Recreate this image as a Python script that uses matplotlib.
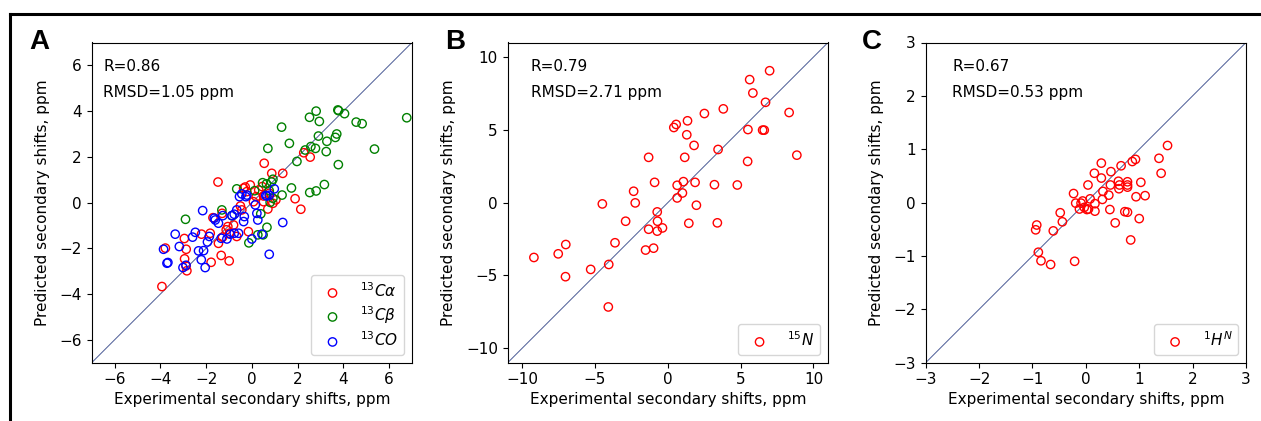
import numpy as np
import matplotlib
matplotlib.use("Agg")
import matplotlib.pyplot as plt
from matplotlib.lines import Line2D

# ---- panel A: 13C shifts (experimental, predicted) ----
ca_exp = [-3.93, -3.78, -2.95, -2.87, -2.94, -2.88, -2.84, -1.78, -1.34, -0.99,
          -2.20, -1.82, -1.46, -1.48, -1.70, -1.30, -1.28, -1.12, -0.98, -0.80,
          -0.66, -0.44, -0.36, -0.29, -0.07, -0.22, -0.15, 0.07, 0.19, 0.54,
          0.51, 0.51, 0.70, 0.77, 0.87, 0.92, 1.05, 1.35, 1.89, 2.14,
          2.27, 2.55, -0.50, -1.05, 0.30, 0.45]
ca_pred = [-3.67, -1.99, -1.57, -2.04, -2.46, -2.77, -2.98, -2.61, -2.31, -2.55,
           -1.38, -1.34, -1.78, 0.90, -0.66, -0.47, -1.51, -1.19, -1.34, -0.98,
           -1.48, -0.32, 0.63, 0.68, 0.77, 0.48, -1.27, 0.04, 0.26, 1.72,
           0.29, 0.04, -0.28, 0.41, 1.28, -0.03, 0.12, 1.28, 0.17, -0.29,
           2.18, 1.99, -0.15, -1.05, 0.55, 0.70]

cb_exp = [6.77, 2.81, 2.52, 2.95, 3.76, 3.79, 4.05, 4.56, 4.82, 1.30,
          2.91, 3.71, 3.65, 3.28, 1.64, 0.70, 2.33, 2.58, 2.78, 3.25,
          5.36, 1.97, 3.78, 3.17, 2.81, 2.53, 1.73, 1.32, 0.92, 0.86,
          0.47, 0.64, -0.66, 0.12, 0.80, 0.92, 0.39, 0.66, -0.13, -2.90,
          -1.31, -0.87, 0.26, 0.49, 0.76]
cb_pred = [3.71, 4.00, 3.73, 3.55, 4.05, 4.02, 3.89, 3.52, 3.45, 3.30,
           2.91, 3.00, 2.85, 2.68, 2.59, 2.37, 2.30, 2.45, 2.37, 2.23,
           2.34, 1.80, 1.66, 0.79, 0.51, 0.44, 0.64, 0.33, 1.02, 0.90,
           0.87, 0.82, 0.60, 0.52, 0.01, 0.19, -0.49, -1.08, -1.76, -0.73,
           -0.32, -0.57, -1.41, -1.41, 0.52]

co_exp = [-3.86, -3.71, -3.67, -3.35, -3.17, -3.01, -2.88, -2.47, -2.59, -2.33,
          -2.21, -2.11, -2.04, -2.15, -1.94, -1.86, -1.64, -1.60, -1.46, -1.27,
          -1.34, -1.09, -0.95, -0.87, -0.77, -0.66, -0.54, -0.44, -0.36, -0.58,
          -0.77, -0.26, -0.22, -0.33, 0.15, 0.22, 0.26, 0.00, 0.44, 0.61,
          0.66, 0.76, 0.98, 1.35, 0.76]
co_pred = [-2.04, -2.65, -2.62, -1.38, -1.92, -2.84, -2.74, -1.30, -1.51, -2.11,
           -2.50, -2.10, -2.84, -0.35, -1.72, -1.48, -0.68, -0.76, -0.90, -0.57,
           -1.56, -1.59, -1.38, -0.57, -0.51, -0.32, 0.26, 0.38, -0.83, -1.34,
           -1.34, 0.26, 0.33, -0.61, -0.10, -0.47, -0.76, -1.59, -1.38, 0.31,
           0.29, 0.32, 0.60, -0.87, -2.26]

# ---- panel B: 15N ----
n_exp = [-9.20, -7.53, -7.01, -7.03, -5.30, -4.06, -4.09, -4.50, -3.63, -2.90,
         -2.35, -2.24, -1.32, -0.91, -1.32, -1.53, -0.98, -0.73, -0.71, -0.73,
         -0.37, 0.41, 0.57, 0.64, 0.64, 1.00, 1.07, 1.16, 1.30, 1.35,
         1.44, 1.80, 1.87, 1.96, 2.51, 3.20, 3.40, 3.45, 3.81, 4.77,
         5.48, 5.50, 5.62, 5.84, 6.51, 6.62, 6.71, 6.99, 8.33, 8.86]
n_pred = [-3.77, -3.52, -2.88, -5.09, -4.59, -4.25, -7.17, -0.09, -2.76, -1.28,
          0.78, -0.02, 3.11, 1.39, -1.83, -3.26, -3.13, -0.64, -1.28, -1.96,
          -1.74, 5.16, 5.37, 1.19, 0.32, 0.66, 1.44, 3.11, 4.66, 5.62,
          -1.42, 3.93, 1.39, -0.18, 6.12, 1.23, -1.39, 3.65, 6.44, 1.21,
          2.83, 5.02, 8.45, 7.53, 4.98, 4.98, 6.89, 9.06, 6.19, 3.26]

# ---- panel C: 1H^N ----
h_exp = [-0.94, -0.92, -0.89, -0.84, -0.66, -0.61, -0.48, -0.44, -0.21, -0.23,
         -0.19, -0.12, -0.09, -0.06, -0.03, 0.02, 0.05, 0.04, 0.08, 0.17,
         0.17, 0.16, 0.29, 0.29, 0.31, 0.32, 0.43, 0.45, 0.46, 0.47,
         0.55, 0.61, 0.62, 0.63, 0.66, 0.73, 0.78, 0.78, 0.78, 0.78,
         0.84, 0.87, 0.93, 0.94, 1.00, 1.03, 1.11, 1.37, 1.41, 1.53]
h_pred = [-0.51, -0.42, -0.93, -1.09, -1.16, -0.53, -0.19, -0.36, -1.10, 0.17,
          -0.01, -0.12, -0.01, 0.03, -0.09, -0.13, -0.12, 0.33, 0.07, -0.02,
          -0.16, 0.55, 0.74, 0.46, 0.06, 0.21, 0.14, -0.13, 0.33, 0.58,
          -0.38, 0.40, 0.26, 0.33, 0.69, -0.17, -0.18, 0.39, 0.33, 0.29,
          -0.70, 0.77, 0.81, 0.11, -0.30, 0.38, 0.13, 0.83, 0.55, 1.07]

stats = [("R=0.86", "RMSD=1.05 ppm"), ("R=0.79", "RMSD=2.71 ppm"), ("R=0.67", "RMSD=0.53 ppm")]
limits = [7, 11, 3]
ticks = [np.arange(-6, 7, 2), np.arange(-10, 11, 5), np.arange(-3, 4, 1)]

W, H = 1261, 421
fig = plt.figure(figsize=(W / 100, H / 100), dpi=100)


def box(l, t, r, b):
    return [l / W, 1 - b / H, (r - l) / W, (b - t) / H]


axes = [
    fig.add_axes(box(91.7, 42.5, 412, 362.7)),
    fig.add_axes(box(507.7, 42.5, 828, 362.7)),
    fig.add_axes(box(925.7, 42.5, 1246, 362.7)),
]

series = [
    [(ca_exp, ca_pred, "red", r"$^{13}C\alpha$"),
     (cb_exp, cb_pred, "green", r"$^{13}C\beta$"),
     (co_exp, co_pred, "blue", r"$^{13}CO$")],
    [(n_exp, n_pred, "red", r"$^{15}N$")],
    [(h_exp, h_pred, "red", r"$^{1}H^{N}$")],
]
text_x = [0.036, 0.072, 0.083]
fs = 11

for i, ax in enumerate(axes):
    lim = limits[i]
    ax.plot([-lim, lim], [-lim, lim], color="#4c5c96", lw=0.7, zorder=1)
    for x, y, c, lab in series[i]:
        ax.scatter(x, y, s=36, facecolors="none", edgecolors=c, linewidths=1.0,
                   label=lab, zorder=2)
    ax.set_xlim(-lim, lim)
    ax.set_ylim(-lim, lim)
    ax.set_xticks(ticks[i])
    ax.set_yticks(ticks[i])
    ax.tick_params(labelsize=fs)
    ax.set_xlabel("Experimental secondary shifts, ppm", fontsize=fs, labelpad=3)
    ax.set_ylabel("Predicted secondary shifts, ppm", fontsize=fs, labelpad=7)
    ax.text(text_x[i], 0.924, stats[i][0], transform=ax.transAxes,
            fontsize=fs, va="center", ha="left")
    ax.text(text_x[i], 0.845, stats[i][1], transform=ax.transAxes,
            fontsize=fs, va="center", ha="left")
    ax.legend(loc="lower right", fontsize=fs, scatterpoints=1,
              labelspacing=0.28)

# panel letters
for letter, xc in zip("ABC", [39, 455, 872]):
    fig.text(xc / W, 1 - 42 / H, letter, fontsize=20, fontweight="bold",
             family="Liberation Sans", ha="center", va="center")

# frame lines (top and left)
fig.add_artist(Line2D([9.5 / W, 1], [1 - 13.5 / H, 1 - 13.5 / H],
                      transform=fig.transFigure, color="black", lw=2.2))
fig.add_artist(Line2D([9.5 / W, 9.5 / W], [0, 1 - 13.5 / H],
                      transform=fig.transFigure, color="black", lw=2.2))

fig.savefig("out.png", dpi=100)
